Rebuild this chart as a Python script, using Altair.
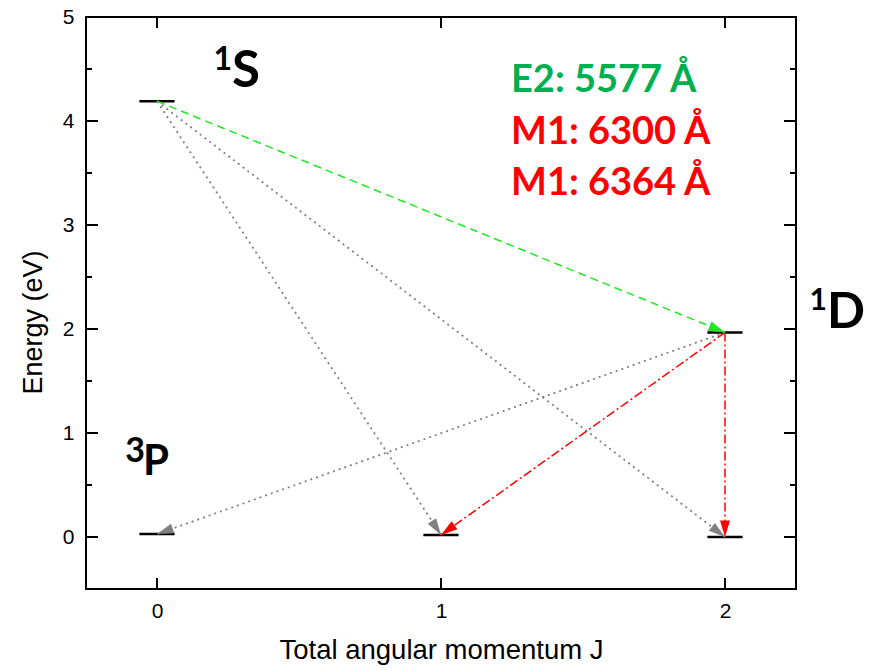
import math
import altair as alt
import pandas as pd

# ---- data ----
level_names = ["1S", "1D", "3P0", "3P1", "3P2"]
level_J = [0, 2, 0, 1, 2]
level_E = [4.19, 1.967, 0.028, 0.020, 0.0]

trans_from = ["1S", "1S", "1S", "1D", "1D", "1D"]
trans_to = ["1D", "3P1", "3P2", "3P0", "3P1", "3P2"]
trans_kind = ["E2", "other", "other", "other", "M1", "M1"]

x_ticks = [0, 1, 2]
y_ticks = [0, 1, 2, 3, 4, 5]
y_minor = [0.5, 1.5, 2.5, 3.5, 4.5]

term_anchor = ["1S", "1D", "3P0"]
term_mult = ["1", "1", "3"]
term_letter = ["S", "D", "P"]

notes = ["E2: 5577 Å", "M1: 6300 Å", "M1: 6364 Å"]
note_colors = ["#00b050", "#ff0000", "#ff0000"]

# ---- layout / style ----
W, H = 710, 572
XD = [-0.25, 2.25]
YD = [-0.5, 5.0]
px_J = W / (XD[1] - XD[0])
px_E = H / (YD[1] - YD[0])
HALF = 0.062

kind_color = {"E2": "#22e622", "other": "#808080", "M1": "#ff0000"}
kind_dash = {"E2": [8, 5], "other": [2, 4], "M1": [9, 3, 2, 3]}
kind_width = {"E2": 1.5, "other": 1.8, "M1": 1.5}

levels = pd.DataFrame({"name": level_names, "J": level_J, "E": level_E})
levels["J0"] = levels["J"] - HALF
levels["J1"] = levels["J"] + HALF
pos = {n: (j, e) for n, j, e in zip(level_names, level_J, level_E)}

rows = []
for f, t, k in zip(trans_from, trans_to, trans_kind):
    jf, ef = pos[f]
    jt, et = pos[t]
    dx = (jt - jf) * px_J
    dy = -(et - ef) * px_E
    ang = math.degrees(math.atan2(dy, dx)) % 360
    rows.append({"Jf": jf, "Ef": ef, "Jt": jt, "Et": et, "kind": k,
                 "angle": ang, "color": kind_color[k]})
arrows = pd.DataFrame(rows)

xs = alt.Scale(domain=XD, nice=False, zero=False)
ys = alt.Scale(domain=YD, nice=False, zero=False)

AXFONT = "Liberation Sans"
xaxis = alt.Axis(values=x_ticks, format="d", ticks=False, tickSize=0, domain=False, grid=False,
                 labelFont=AXFONT, labelFontSize=21, labelPadding=11, labelColor="black",
                 title="Total angular momentum J", titleFont=AXFONT, titleFontSize=27.5,
                 titleFontWeight="normal", titleColor="black", titleY=69,
                 titleBaseline="alphabetic")
yaxis = alt.Axis(values=y_ticks, format="d", ticks=False, tickSize=0, domain=False, grid=False,
                 labelFont=AXFONT, labelFontSize=21, labelPadding=12, labelColor="black",
                 title="Energy (eV)", titleFont=AXFONT, titleFontSize=27,
                 titleFontWeight="normal", titleColor="black", titleAngle=270,
                 titleX=-53, titleY=305, titleAlign="center", titleBaseline="middle")


def X(f):
    return alt.X(f, type="quantitative", scale=xs, axis=xaxis)


def Y(f):
    return alt.Y(f, type="quantitative", scale=ys, axis=yaxis)


layers = []

# frame ticks (inside)
yt = pd.DataFrame({"v": y_ticks})
ym = pd.DataFrame({"v": y_minor})
xt = pd.DataFrame({"v": x_ticks})
tick_style = dict(color="black", strokeWidth=2)
layers.append(alt.Chart(yt).mark_rule(**tick_style).encode(y=Y("v"), x=alt.value(0), x2=alt.value(12)))
layers.append(alt.Chart(yt).mark_rule(**tick_style).encode(y=Y("v"), x=alt.value(W - 12), x2=alt.value(W)))
layers.append(alt.Chart(ym).mark_rule(**tick_style).encode(y=Y("v"), x=alt.value(0), x2=alt.value(6)))
layers.append(alt.Chart(ym).mark_rule(**tick_style).encode(y=Y("v"), x=alt.value(W - 6), x2=alt.value(W)))
layers.append(alt.Chart(xt).mark_rule(**tick_style).encode(x=X("v"), y=alt.value(H - 11), y2=alt.value(H)))
layers.append(alt.Chart(xt).mark_rule(**tick_style).encode(x=X("v"), y=alt.value(0), y2=alt.value(11)))

# energy levels
layers.append(alt.Chart(levels).mark_rule(color="black", strokeWidth=2.5).encode(
    x=X("J0"), x2="J1", y=Y("E")))

# transitions
for k in ["other", "M1", "E2"]:
    d = arrows[arrows["kind"] == k]
    layers.append(alt.Chart(d).mark_rule(color=kind_color[k], strokeWidth=kind_width[k],
                                         strokeDash=kind_dash[k]).encode(
        x=X("Jf"), y=Y("Ef"), x2="Jt", y2="Et"))
    layers.append(alt.Chart(d).mark_point(shape="M0,0L-1,-0.3L-1,0.3Z", size=1100,
                                          filled=True, opacity=1, strokeWidth=0).encode(
        x=X("Jt"), y=Y("Et"),
        angle=alt.Angle("angle:Q", scale=None),
        color=alt.Color("color:N", scale=None)))

# term labels
terms = pd.DataFrame({"name": term_anchor, "mult": term_mult, "letter": term_letter})
terms = terms.merge(levels, on="name")
LFONT = "Lato"
term_style = {
    "1S": dict(ldx=75, ldy=-14, lsize=51, mdx=75, mdy=-31, msize=32),
    "1D": dict(ldx=102, ldy=-4, lsize=50, mdx=102, mdy=-22, msize=30),
    "3P0": dict(ldx=-14, ldy=-59, lsize=42, mdx=-12, mdy=-72, msize=34),
}
for n, st in term_style.items():
    d = terms[terms["name"] == n]
    layers.append(alt.Chart(d).mark_text(font=LFONT, fontWeight="bold", fontSize=st["lsize"],
                                         align="left", baseline="alphabetic", color="black",
                                         dx=st["ldx"], dy=st["ldy"]).encode(
        x=X("J"), y=Y("E"), text="letter:N"))
    layers.append(alt.Chart(d).mark_text(font=LFONT, fontWeight="bold", fontSize=st["msize"],
                                         align="right", baseline="alphabetic", color="black",
                                         dx=st["mdx"], dy=st["mdy"]).encode(
        x=X("J"), y=Y("E"), text="mult:N"))

# transition notes
for i, (t, c) in enumerate(zip(notes, note_colors)):
    nd = pd.DataFrame({"t": [t]})
    layers.append(alt.Chart(nd).mark_text(font=LFONT, fontWeight="bold", fontSize=38,
                                          align="left", baseline="alphabetic", color=c).encode(
        x=alt.value(425), y=alt.value(75 + i * 51.5), text="t:N"))

chart = alt.layer(*layers).properties(
    width=W, height=H,
    autosize=alt.AutoSizeParams(type="none"),
    padding={"left": 86, "top": 17, "right": 93, "bottom": 82},
    background="white",
).configure_view(stroke="black", strokeWidth=2)

chart.save("out.html", embed_options={"renderer": "svg", "actions": False})
